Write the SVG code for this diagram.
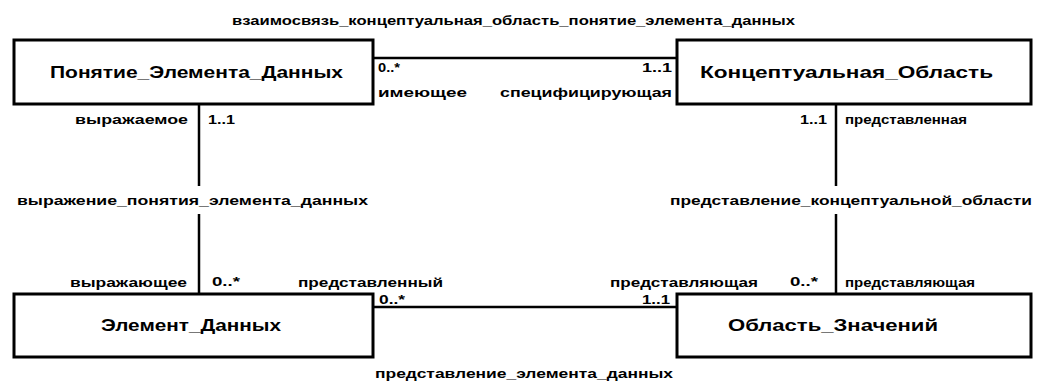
<svg xmlns="http://www.w3.org/2000/svg" width="1041" height="384" viewBox="0 0 1041 384">
<style>
.box{fill:#fff;stroke:#000;stroke-width:3}
.ln{stroke:#000;stroke-width:2.5;fill:none}
.nm{font-family:"Liberation Sans",Arial,sans-serif;font-weight:bold;font-size:16px;fill:#000}
.lb{font-family:"Liberation Sans",Arial,sans-serif;font-weight:bold;font-size:12px;fill:#000}
.mu{font-family:"Liberation Sans",Arial,sans-serif;font-weight:bold;font-size:13px;fill:#000}
</style>
<rect width="1041" height="384" fill="#fff"/>
<g id="connectors">
<line class="ln" x1="373" y1="58" x2="677" y2="58"/>
<line class="ln" x1="373" y1="307" x2="677" y2="307"/>
<line class="ln" x1="199" y1="104" x2="199" y2="186"/>
<line class="ln" x1="199" y1="214" x2="199" y2="294"/>
<line class="ln" x1="836" y1="104" x2="836" y2="186"/>
<line class="ln" x1="836" y1="214" x2="836" y2="294"/>
<text class="lb" x="232" y="25" textLength="563" lengthAdjust="spacingAndGlyphs">взаимосвязь_концептуальная_область_понятие_элемента_данных</text>
<text class="mu" x="378" y="72" textLength="22" lengthAdjust="spacingAndGlyphs">0..*</text>
<text class="lb" x="378" y="97" textLength="89" lengthAdjust="spacingAndGlyphs">имеющее</text>
<text class="mu" x="642" y="72" textLength="30" lengthAdjust="spacingAndGlyphs">1..1</text>
<text class="lb" x="500" y="97" textLength="172" lengthAdjust="spacingAndGlyphs">специфицирующая</text>
<text class="lb" x="75" y="124" textLength="113" lengthAdjust="spacingAndGlyphs">выражаемое</text>
<text class="mu" x="208" y="124" textLength="27" lengthAdjust="spacingAndGlyphs">1..1</text>
<text class="mu" x="800" y="124" textLength="27" lengthAdjust="spacingAndGlyphs">1..1</text>
<text class="lb" x="845" y="124" textLength="122" lengthAdjust="spacingAndGlyphs">представленная</text>
<text class="lb" x="17" y="205" textLength="351" lengthAdjust="spacingAndGlyphs">выражение_понятия_элемента_данных</text>
<text class="lb" x="670" y="205" textLength="362" lengthAdjust="spacingAndGlyphs">представление_концептуальной_области</text>
<text class="lb" x="70" y="287" textLength="117" lengthAdjust="spacingAndGlyphs">выражающее</text>
<text class="mu" x="212" y="286" textLength="28" lengthAdjust="spacingAndGlyphs">0..*</text>
<text class="lb" x="298" y="287" textLength="145" lengthAdjust="spacingAndGlyphs">представленный</text>
<text class="mu" x="379" y="304" textLength="26" lengthAdjust="spacingAndGlyphs">0..*</text>
<text class="mu" x="642" y="304" textLength="28" lengthAdjust="spacingAndGlyphs">1..1</text>
<text class="lb" x="610" y="287" textLength="148" lengthAdjust="spacingAndGlyphs">представляющая</text>
<text class="mu" x="790" y="286" textLength="28" lengthAdjust="spacingAndGlyphs">0..*</text>
<text class="lb" x="845" y="287" textLength="130" lengthAdjust="spacingAndGlyphs">представляющая</text>
<text class="lb" x="375" y="378" textLength="298" lengthAdjust="spacingAndGlyphs">представление_элемента_данных</text>
</g>
<g id="node-pon">
<rect class="box" x="14" y="40" width="359" height="64"/>
<text class="nm" x="50" y="78" textLength="293" lengthAdjust="spacingAndGlyphs">Понятие_Элемента_Данных</text>
</g>
<g id="node-ko">
<rect class="box" x="677" y="40" width="354" height="64"/>
<text class="nm" x="700" y="78" textLength="293" lengthAdjust="spacingAndGlyphs">Концептуальная_Область</text>
</g>
<g id="node-ed">
<rect class="box" x="14" y="294" width="359" height="63"/>
<text class="nm" x="101" y="331" textLength="180" lengthAdjust="spacingAndGlyphs">Элемент_Данных</text>
</g>
<g id="node-oz">
<rect class="box" x="677" y="294" width="354" height="63"/>
<text class="nm" x="728" y="331" textLength="210" lengthAdjust="spacingAndGlyphs">Область_Значений</text>
</g>
</svg>
